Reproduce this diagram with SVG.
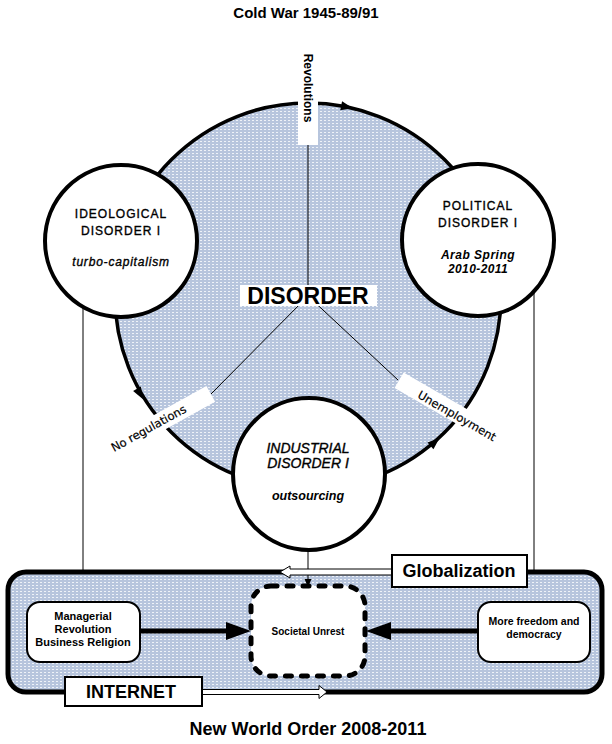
<svg xmlns="http://www.w3.org/2000/svg" width="612" height="744" viewBox="0 0 612 744">
<defs>
<pattern id="dots" width="4" height="3" patternUnits="userSpaceOnUse">
<rect width="4" height="3" fill="#b7c5dd"/>
<rect x="0" y="0" width="2" height="1" fill="#eef2f8"/>
</pattern>
<style>
.t{font-family:"Liberation Sans",Arial,sans-serif;fill:#000}
.b{font-weight:bold}
.i{font-style:italic}
.s{stroke:#000;stroke-width:0.35}
.v{font-family:"DejaVu Sans",Verdana,sans-serif;fill:#000;stroke:#000;stroke-width:0.2}
.node{fill:#fff;stroke:#000;stroke-width:4}
.thin{stroke:#000;stroke-width:1;fill:none}
.box{fill:#fff;stroke:#000;stroke-width:2}
.hollow{fill:#fff;stroke:#000;stroke-width:1}
</style>
</defs>
<rect width="612" height="744" fill="#fff"/>

<text class="t b" x="306" y="18" font-size="15" text-anchor="middle">Cold War 1945-89/91</text>

<g id="disorder">
<circle cx="308" cy="296" r="193" fill="url(#dots)" stroke="#000" stroke-width="3.5"/>
</g>

<g id="connectors">
<line class="thin" x1="308" y1="145" x2="308" y2="296"/>
<line class="thin" x1="308" y1="296" x2="210" y2="395"/>
<line class="thin" x1="308" y1="296" x2="398" y2="380"/>
<polygon points="6,0 -6,-4.5 -6,4.5" transform="translate(347,107) rotate(12)"/>
<polygon points="6,0 -6,-4.5 -6,4.5" transform="translate(140,394) rotate(60)"/>
<polygon points="6,0 -6,-4.5 -6,4.5" transform="translate(435,442) rotate(-41)"/>
<line class="thin" x1="83" y1="307" x2="83" y2="594"/>
<polygon points="83,601 79.5,593 86.5,593"/>
<line class="thin" x1="534" y1="291" x2="534" y2="594"/>
<polygon points="534,601 530.5,593 537.5,593"/>
</g>

<g id="label-revolutions">
<rect x="298" y="48" width="20" height="97" fill="#fff"/>
<text class="t b" font-size="12" text-anchor="middle" transform="translate(304,88) rotate(90)">Revolutions</text>
</g>

<g id="label-disorder">
<rect x="240" y="285" width="137" height="21" fill="#fff"/>
<text class="t b" x="308" y="304" font-size="23" text-anchor="middle">DISORDER</text>
</g>

<g id="label-noreg" transform="translate(160,422) rotate(-29)">
<rect x="-62" y="-9" width="120" height="18" fill="#fff"/>
<text class="v" x="-13" y="4" font-size="11.5" text-anchor="middle">No regulations</text>
</g>

<g id="label-unemp" transform="translate(457,416) rotate(30)">
<rect x="-68" y="-11" width="132" height="18" fill="#fff"/>
<text class="v" x="0" y="4" font-size="11.5" text-anchor="middle">Unemployment</text>
</g>

<g id="ideological">
<circle class="node" cx="121" cy="241" r="76"/>
<text class="t s" x="121" y="218" font-size="12" letter-spacing="1" text-anchor="middle">IDEOLOGICAL</text>
<text class="t s" x="121" y="235" font-size="12" letter-spacing="1" text-anchor="middle">DISORDER I</text>
<text class="t i s" x="121" y="266" font-size="12" letter-spacing="0.8" text-anchor="middle">turbo-capitalism</text>
</g>

<g id="political">
<circle class="node" cx="478" cy="240" r="76"/>
<text class="t s" x="478" y="210" font-size="12" letter-spacing="1" text-anchor="middle">POLITICAL</text>
<text class="t s" x="478" y="227" font-size="12" letter-spacing="1" text-anchor="middle">DISORDER I</text>
<text class="t i" x="478" y="259" font-size="12" letter-spacing="0.5" font-weight="bold" text-anchor="middle">Arab Spring</text>
<text class="t i" x="478" y="273" font-size="12" letter-spacing="0.4" font-weight="bold" text-anchor="middle">2010-2011</text>
</g>

<g id="industrial">
<circle class="node" cx="309" cy="474" r="76"/>
<text class="t i s" x="308" y="453" font-size="14" text-anchor="middle">INDUSTRIAL</text>
<text class="t i s" x="308" y="468" font-size="14" text-anchor="middle">DISORDER I</text>
<text class="t i b" x="308" y="500" font-size="12.5" text-anchor="middle">outsourcing</text>
</g>

<g id="new-world-order">
<rect x="8" y="572" width="594" height="120" rx="18" ry="18" fill="url(#dots)" stroke="#000" stroke-width="5"/>
</g>

<g id="connectors-bottom">
<line class="thin" x1="308" y1="550" x2="308" y2="580"/>
<polygon points="308,587 304.5,579 311.5,579"/>
<line x1="140" y1="631" x2="228" y2="631" stroke="#000" stroke-width="5"/>
<polygon points="226,622 251,631 226,640"/>
<line x1="389" y1="631" x2="478" y2="631" stroke="#000" stroke-width="5"/>
<polygon points="391,622 366,631 391,640"/>
<polygon class="hollow" points="392,569 290,569 290,566 280,572 290,578 290,575 392,575"/>
<polygon class="hollow" points="202,689.5 319,689.5 319,685.5 327,692 319,698.5 319,694.5 202,694.5"/>
</g>

<g id="managerial">
<rect class="box" x="27" y="602" width="113" height="60" rx="13" ry="13"/>
<text class="t b" x="83" y="620" font-size="11" text-anchor="middle">Managerial</text>
<text class="t b" x="83" y="633" font-size="11" text-anchor="middle">Revolution</text>
<text class="t b" x="83" y="646" font-size="11" text-anchor="middle">Business Religion</text>
</g>

<g id="societal-unrest">
<rect x="251" y="586" width="114" height="90" rx="20" ry="20" fill="#fff" stroke="#000" stroke-width="5" stroke-dasharray="6 10" stroke-linecap="round"/>
<text class="t b" x="308" y="635" font-size="10" text-anchor="middle">Societal Unrest</text>
</g>

<g id="freedom">
<rect class="box" x="478" y="602" width="112" height="60" rx="13" ry="13"/>
<text class="t b" x="534" y="625" font-size="10.5" text-anchor="middle">More freedom and</text>
<text class="t b" x="534" y="638" font-size="10.5" text-anchor="middle">democracy</text>
</g>

<g id="globalization">
<rect class="box" x="392" y="555" width="135" height="32" stroke-width="1.5"/>
<text class="t b" x="459" y="577" font-size="18" text-anchor="middle">Globalization</text>
</g>

<g id="internet">
<rect class="box" x="65" y="677" width="137" height="29" stroke-width="1.5"/>
<text class="t b" x="131" y="698" font-size="18" text-anchor="middle">INTERNET</text>
</g>

<text class="t b" x="308" y="735" font-size="18" text-anchor="middle">New World Order  2008-2011</text>
</svg>
